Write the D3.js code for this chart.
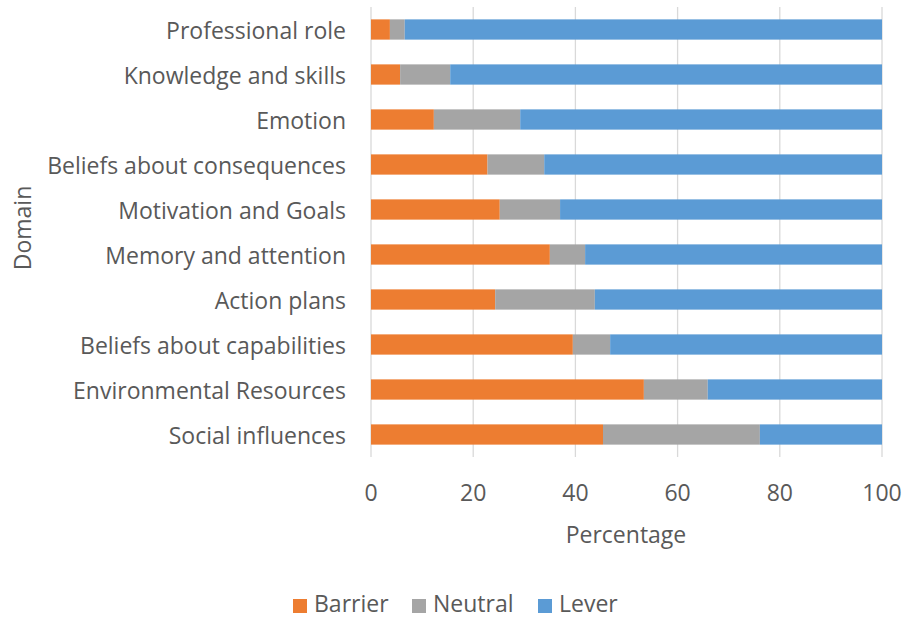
<!DOCTYPE html>
<html>
<head>
<meta charset="utf-8">
<script src="https://cdn.jsdelivr.net/npm/d3@7"></script>
<style>
  body { margin: 0; background: #fff; }
  svg text { font-family: "Open Sans", sans-serif; fill: #595959; font-size: 23px; }
</style>
</head>
<body>
<svg id="plot" width="904" height="619"></svg>
<script>
const domains = [
  "Professional role", "Knowledge and skills", "Emotion",
  "Beliefs about consequences", "Motivation and Goals", "Memory and attention",
  "Action plans", "Beliefs about capabilities", "Environmental Resources",
  "Social influences"
];
const barrier = [3.7, 5.7, 12.3, 22.8, 25.2, 35.0, 24.3, 39.5, 53.4, 45.4];
const neutral = [2.9, 9.8, 16.9, 11.1, 11.8, 6.9, 19.5, 7.3, 12.5, 30.7];
const lever   = [93.4, 84.5, 70.8, 66.1, 63.0, 58.1, 56.2, 53.2, 34.1, 23.9];
const seriesNames = ["Barrier", "Neutral", "Lever"];
const colors = ["#ED7D31", "#A5A5A5", "#5B9BD5"];
const xTicks = [0, 20, 40, 60, 80, 100];

const svg = d3.select("svg#plot");
const plotLeft = 371, plotRight = 882, plotTop = 7, plotBottom = 457;

const x = d3.scaleLinear().domain([0, 100]).range([plotLeft, plotRight]);
const y = d3.scaleBand().domain(domains).range([plotTop, plotBottom]).paddingInner(0.55).paddingOuter(0.275);

// gridlines
svg.append("g").selectAll("line").data(xTicks).enter().append("line")
  .attr("x1", d => x(d)).attr("x2", d => x(d))
  .attr("y1", plotTop).attr("y2", plotBottom)
  .attr("stroke", "#D9D9D9").attr("stroke-width", 1.3);

const rows = domains.map((d, i) => ({ domain: d, Barrier: barrier[i], Neutral: neutral[i], Lever: lever[i] }));
const stacked = d3.stack().keys(seriesNames)(rows);

svg.append("g").selectAll("g").data(stacked).enter().append("g")
  .attr("fill", (d, i) => colors[i])
  .selectAll("rect").data(d => d).enter().append("rect")
  .attr("x", d => x(d[0]))
  .attr("width", d => x(Math.min(d[1], 100)) - x(d[0]))
  .attr("y", d => y(d.data.domain))
  .attr("height", y.bandwidth());

// category labels
svg.append("g").selectAll("text").data(domains).enter().append("text")
  .attr("x", 346).attr("y", d => y(d) + y.bandwidth() / 2)
  .attr("text-anchor", "end").attr("dominant-baseline", "central")
  .text(d => d);

// tick labels
svg.append("g").selectAll("text").data(xTicks).enter().append("text")
  .attr("x", d => x(d)).attr("y", 492)
  .attr("text-anchor", "middle").attr("dominant-baseline", "central")
  .text(d => d);

svg.append("text").attr("x", 626).attr("y", 534).attr("text-anchor", "middle")
  .attr("dominant-baseline", "central").text("Percentage");

svg.append("text").attr("transform", "translate(22,228) rotate(-90)")
  .attr("text-anchor", "middle").attr("dominant-baseline", "central")
  .text("Domain");

// legend
const legendX = [293, 412, 538];
const legend = svg.append("g").selectAll("g").data(seriesNames).enter().append("g")
  .attr("transform", (d, i) => `translate(${legendX[i]},605)`);
legend.append("rect").attr("x", 0).attr("y", -6).attr("width", 14).attr("height", 14)
  .attr("fill", (d, i) => colors[i]);
legend.append("text").attr("x", 21).attr("y", 7)
  .text(d => d);
</script>
</body>
</html>
